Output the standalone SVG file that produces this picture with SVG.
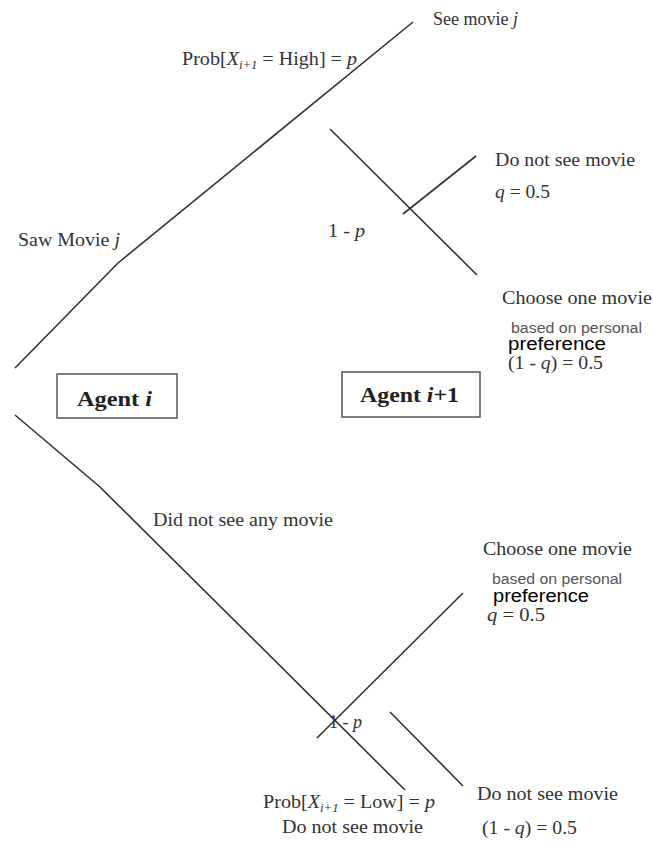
<svg xmlns="http://www.w3.org/2000/svg" width="653" height="844" viewBox="0 0 653 844">
<style>
.t{font-family:"Liberation Serif","Times New Roman",serif;font-size:19px;fill:#333}
.s{font-family:"Liberation Sans",Arial,sans-serif;font-size:14px;fill:#555}
.p{font-family:"Liberation Sans",Arial,sans-serif;font-size:18px;fill:#000}
.b{font-family:"Liberation Serif","Times New Roman",serif;font-size:22px;font-weight:bold;fill:#222}
.ln{fill:none;stroke:#333;stroke-width:1.6}
.box{fill:#fff;stroke:#555;stroke-width:1.5}
</style>
<rect width="653" height="844" fill="#fff"/>
<g id="connectors">
<polyline class="ln" points="15,368 118,263 413,22"/>
<polyline class="ln" points="15,415 100,487 405,790"/>
<line class="ln" x1="330" y1="129" x2="477" y2="275"/>
<line class="ln" x1="403" y1="214" x2="476" y2="156"/>
<line class="ln" x1="317" y1="738" x2="463" y2="593"/>
<line class="ln" x1="390" y1="712" x2="463" y2="786"/>
</g>
<g id="agent-i">
<rect class="box" x="57" y="374" width="120" height="44"/>
<text class="b" x="77" y="406" textLength="75" lengthAdjust="spacingAndGlyphs">Agent <tspan font-style="italic">i</tspan></text>
</g>
<g id="agent-i1">
<rect class="box" x="342" y="372" width="138" height="45"/>
<text class="b" x="360" y="402" textLength="99" lengthAdjust="spacingAndGlyphs">Agent <tspan font-style="italic">i</tspan>+1</text>
</g>
<g id="labels-upper">
<text class="t" x="433" y="25" textLength="85" lengthAdjust="spacingAndGlyphs">See movie <tspan font-style="italic">j</tspan></text>
<text class="t" x="182" y="65" textLength="175" lengthAdjust="spacingAndGlyphs">Prob[<tspan font-style="italic">X</tspan><tspan font-style="italic" font-size="12" dy="4">i+1</tspan><tspan dy="-4"> = High] = </tspan><tspan font-style="italic">p</tspan></text>
<text class="t" x="495" y="166" textLength="140" lengthAdjust="spacingAndGlyphs">Do not see movie</text>
<text class="t" x="495" y="198" textLength="55" lengthAdjust="spacingAndGlyphs"><tspan font-style="italic">q</tspan> = 0.5</text>
<text class="t" x="328" y="237" textLength="37" lengthAdjust="spacingAndGlyphs">1 - <tspan font-style="italic">p</tspan></text>
<text class="t" x="18" y="246" textLength="102" lengthAdjust="spacingAndGlyphs">Saw Movie <tspan font-style="italic">j</tspan></text>
<text class="t" x="502" y="304" textLength="150" lengthAdjust="spacingAndGlyphs">Choose one movie</text>
<text class="s" x="511" y="333" textLength="131" lengthAdjust="spacingAndGlyphs">based on personal</text>
<text class="p" x="508" y="350" textLength="98" lengthAdjust="spacingAndGlyphs">preference</text>
<text class="t" x="508" y="369" textLength="95" lengthAdjust="spacingAndGlyphs">(1 - <tspan font-style="italic">q</tspan>) = 0.5</text>
</g>
<g id="labels-lower">
<text class="t" x="153" y="526" textLength="180" lengthAdjust="spacingAndGlyphs">Did not see any movie</text>
<text class="t" x="483" y="555" textLength="149" lengthAdjust="spacingAndGlyphs">Choose one movie</text>
<text class="s" x="492" y="584" textLength="130" lengthAdjust="spacingAndGlyphs">based on personal</text>
<text class="p" x="493" y="602" textLength="96" lengthAdjust="spacingAndGlyphs">preference</text>
<text class="t" x="487" y="621" textLength="58" lengthAdjust="spacingAndGlyphs"><tspan font-style="italic">q</tspan> = 0.5</text>
<text class="t" x="329" y="728" textLength="33" lengthAdjust="spacingAndGlyphs">1 - <tspan font-style="italic">p</tspan></text>
<text class="t" x="263" y="808" textLength="172" lengthAdjust="spacingAndGlyphs">Prob[<tspan font-style="italic">X</tspan><tspan font-style="italic" font-size="12" dy="4">i+1</tspan><tspan dy="-4"> = Low] = </tspan><tspan font-style="italic">p</tspan></text>
<text class="t" x="282" y="833" textLength="141" lengthAdjust="spacingAndGlyphs">Do not see movie</text>
<text class="t" x="477" y="800" textLength="141" lengthAdjust="spacingAndGlyphs">Do not see movie</text>
<text class="t" x="482" y="834" textLength="95" lengthAdjust="spacingAndGlyphs">(1 - <tspan font-style="italic">q</tspan>) = 0.5</text>
</g>
</svg>
